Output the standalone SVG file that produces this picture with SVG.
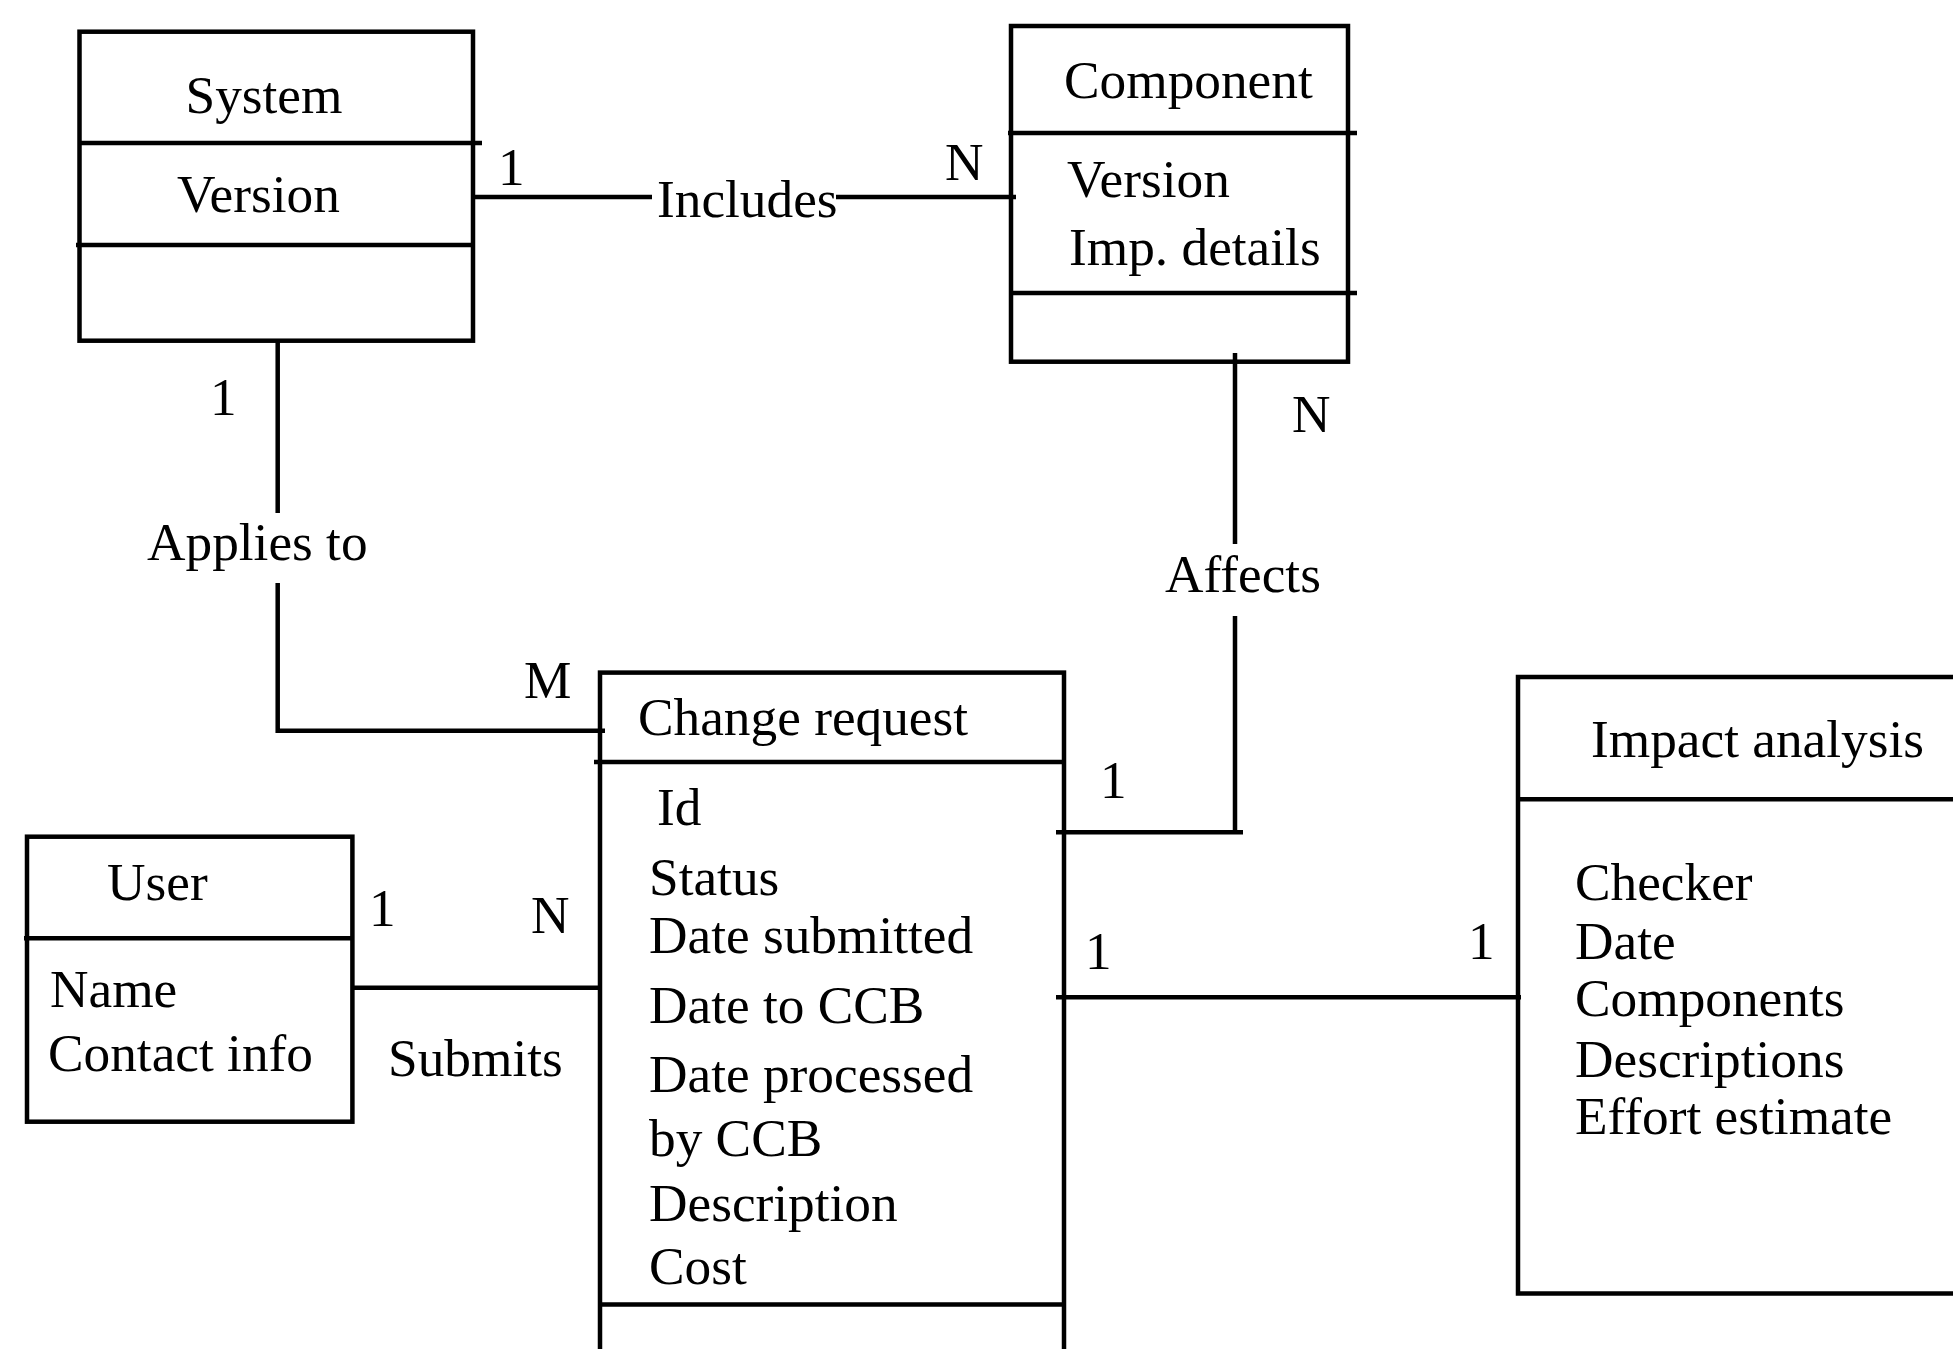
<svg xmlns="http://www.w3.org/2000/svg" width="1953" height="1349" viewBox="0 0 1953 1349">
<style>
text{font-family:"Liberation Serif","Times New Roman",serif;font-size:53.3px;fill:#000}
.b{fill:none;stroke:#000;stroke-width:4.5}
.l{fill:none;stroke:#000;stroke-width:4.5}
</style>
<rect x="0" y="0" width="1953" height="1349" fill="#fff"/>
<g id="connectors">
<g id="includes">
<path class="l" d="M475 197H652M836 197H1016"/>
<text x="498" y="185">1</text>
<text x="657" y="217">Includes</text>
<text x="945" y="180">N</text>
</g>
<g id="applies">
<path class="l" d="M277.7 340V513M277.7 583V730.7H605"/>
<text x="210" y="415">1</text>
<text x="147" y="560">Applies to</text>
<text x="524" y="698">M</text>
</g>
<g id="submits">
<path class="l" d="M354 987.7H600"/>
<text x="369" y="926">1</text>
<text x="531" y="933">N</text>
<text x="388" y="1076">Submits</text>
</g>
<g id="affects">
<path class="l" d="M1235 353V544M1235 616V832.2M1056 832.2H1243"/>
<text x="1292" y="432">N</text>
<text x="1165" y="592">Affects</text>
<text x="1100" y="798">1</text>
</g>
<g id="analysis">
<path class="l" d="M1056 997.3H1521"/>
<text x="1085" y="969">1</text>
<text x="1468" y="959">1</text>
</g>
</g>
<g id="system">
<rect class="b" x="79.5" y="31.7" width="393.5" height="309"/>
<path class="l" d="M79.5 143H482M76 245H473"/>
<text x="264" y="113" text-anchor="middle">System</text>
<text x="177" y="212">Version</text>
</g>
<g id="component">
<rect class="b" x="1011" y="26" width="337" height="335.7"/>
<path class="l" d="M1008 133H1357M1011 293H1357"/>
<text x="1064" y="98">Component</text>
<text x="1067" y="197">Version</text>
<text x="1069" y="265">Imp. details</text>
</g>
<g id="change-request">
<rect class="b" x="600" y="672.6" width="464" height="700"/>
<path class="l" d="M594 762H1064M600 1304.5H1064"/>
<text x="638" y="735">Change request</text>
<text x="657" y="825">Id</text>
<text x="649" y="895">Status</text>
<text x="649" y="953">Date submitted</text>
<text x="649" y="1023">Date to CCB</text>
<text x="649" y="1092">Date processed</text>
<text x="649" y="1156">by CCB</text>
<text x="649" y="1221">Description</text>
<text x="649" y="1284">Cost</text>
</g>
<g id="user">
<rect class="b" x="27" y="836.7" width="325.4" height="285"/>
<path class="l" d="M24 938.3H352.4"/>
<text x="107" y="900">User</text>
<text x="50" y="1007">Name</text>
<text x="48" y="1071">Contact info</text>
</g>
<g id="impact-analysis">
<rect class="b" x="1518" y="677" width="500" height="616.5"/>
<path class="l" d="M1518 799.2H1960"/>
<text x="1591" y="757">Impact analysis</text>
<text x="1575" y="900">Checker</text>
<text x="1575" y="959">Date</text>
<text x="1575" y="1016">Components</text>
<text x="1575" y="1077">Descriptions</text>
<text x="1575" y="1134">Effort estimate</text>
</g>
</svg>
